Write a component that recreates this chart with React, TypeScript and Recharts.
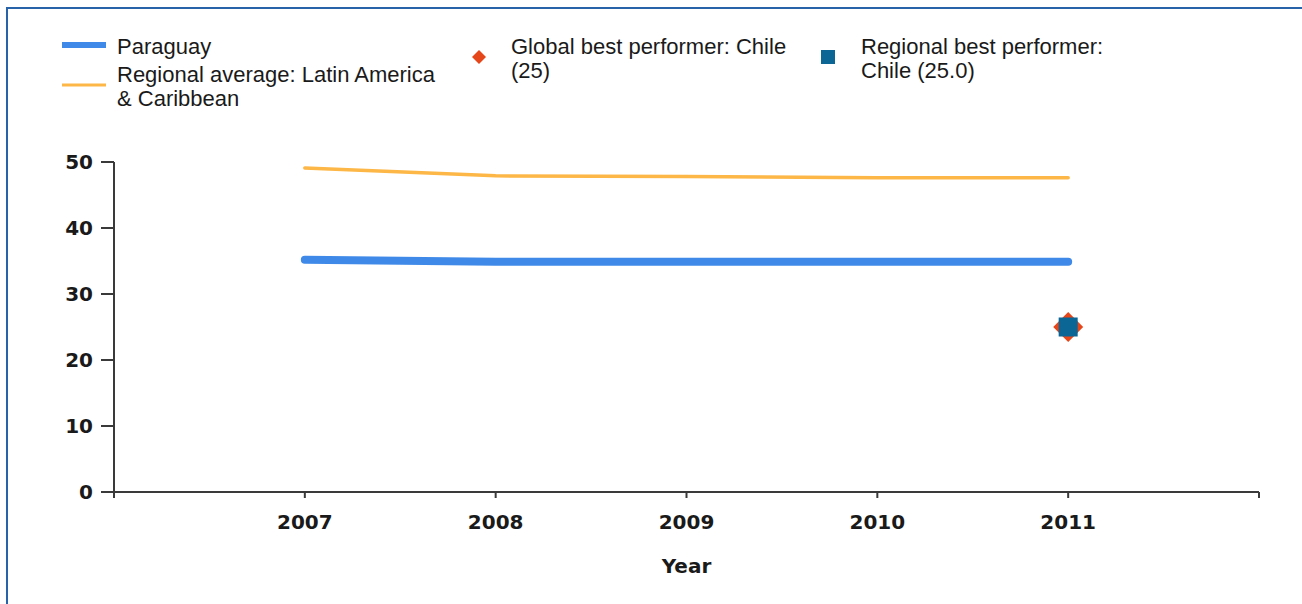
import React from "react";
import {
  ComposedChart,
  Line,
  Scatter,
  XAxis,
  YAxis,
  Label
} from "recharts";

const years = [2007, 2008, 2009, 2010, 2011];
const paraguay = [35.2, 34.9, 34.9, 34.9, 34.9];
const regionalAverage = [49.1, 47.9, 47.8, 47.6, 47.6];
const globalBestYears = [2011];
const globalBest = [25];
const regionalBestYears = [2011];
const regionalBest = [25.0];
const xTicks = [2006, 2007, 2008, 2009, 2010, 2011, 2012];
const yTicks = [0, 10, 20, 30, 40, 50];

const BLUE = "#3f8ae8";
const ORANGE = "#fdb747";
const RED = "#e5461a";
const TEAL = "#0b6595";
const AXIS = "#3a3a3a";
const TEXT = "#1a1a1a";

const rows = years.map((year, i) => ({
  year,
  paraguay: paraguay[i],
  regional: regionalAverage[i]
}));
const globalRows = globalBestYears.map((year, i) => ({ year, value: globalBest[i] }));
const regionalRows = regionalBestYears.map((year, i) => ({ year, value: regionalBest[i] }));

const tickFont = { fontFamily: "DejaVu Sans", fontWeight: 700, fontSize: 20, fill: TEXT };

function Diamond(props: any) {
  const { cx, cy } = props;
  const r = 15;
  return (
    <polygon
      points={`${cx},${cy - r} ${cx + r},${cy} ${cx},${cy + r} ${cx - r},${cy}`}
      fill={RED}
    />
  );
}

function Square(props: any) {
  const { cx, cy } = props;
  const s = 19;
  return <rect x={cx - s / 2} y={cy - s / 2} width={s} height={s} fill={TEAL} />;
}

const legendText: React.CSSProperties = {
  position: "absolute",
  fontFamily: "Liberation Sans, Arial, sans-serif",
  fontSize: 22,
  lineHeight: "24px",
  color: TEXT,
  whiteSpace: "nowrap"
};

function ChartLegend() {
  return (
    <>
      <svg style={{ position: "absolute", left: 0, top: 0 }} width={1302} height={120}>
        <line x1={62} x2={106} y1={45} y2={45} stroke={BLUE} strokeWidth={6} />
        <line x1={62} x2={106} y1={85} y2={85} stroke={ORANGE} strokeWidth={3} />
        <polygon points="479,50 486,57 479,64 472,57" fill={RED} />
        <rect x={821} y={50} width={14} height={14} fill={TEAL} />
      </svg>
      <div style={{ ...legendText, left: 117, top: 35 }}>Paraguay</div>
      <div style={{ ...legendText, left: 117, top: 63 }}>
        Regional average: Latin America
        <br />& Caribbean
      </div>
      <div style={{ ...legendText, left: 511, top: 35 }}>
        Global best performer: Chile
        <br />(25)
      </div>
      <div style={{ ...legendText, left: 861, top: 35 }}>
        Regional best performer:
        <br />Chile (25.0)
      </div>
    </>
  );
}

export default function App() {
  return (
    <div
      style={{
        position: "absolute",
        left: 0,
        top: 0,
        width: 1302,
        height: 604,
        background: "#fff",
        overflow: "hidden"
      }}
    >
      <div
        style={{
          position: "absolute",
          left: 6,
          top: 7,
          right: 0,
          bottom: 0,
          borderTop: "2px solid #2862a8",
          borderLeft: "2px solid #2862a8"
        }}
      />
      <ChartLegend />
      <div style={{ position: "absolute", left: 0, top: 0 }}>
        <ComposedChart
          width={1302}
          height={604}
          data={rows}
          margin={{ top: 162, right: 43, bottom: 0, left: 0 }}
        >
          <XAxis
            dataKey="year"
            type="number"
            domain={[2006, 2012]}
            ticks={xTicks}
            tickFormatter={(v: number) => (v === 2006 || v === 2012 ? "" : String(v))}
            height={112}
            tickSize={6}
            tickMargin={17}
            stroke={AXIS}
            strokeWidth={2}
            tick={tickFont}
            allowDataOverflow
          >
            <Label
              value="Year"
              position="insideBottom"
              offset={31}
              style={{ fontFamily: "DejaVu Sans", fontWeight: 700, fontSize: 20, fill: TEXT }}
            />
          </XAxis>
          <YAxis
            type="number"
            domain={[0, 50]}
            ticks={yTicks}
            width={114}
            tickSize={13}
            tickMargin={8}
            stroke={AXIS}
            strokeWidth={2}
            tick={tickFont}
            allowDataOverflow
          />
          <Line
            dataKey="regional"
            stroke={ORANGE}
            strokeWidth={3.5}
            dot={false}
            type="linear"
            isAnimationActive={false}
            strokeLinecap="round"
          />
          <Line
            dataKey="paraguay"
            stroke={BLUE}
            strokeWidth={8}
            dot={false}
            type="linear"
            isAnimationActive={false}
            strokeLinecap="round"
          />
          <Scatter
            data={globalRows}
            dataKey="value"
            shape={<Diamond />}
            isAnimationActive={false}
          />
          <Scatter
            data={regionalRows}
            dataKey="value"
            shape={<Square />}
            isAnimationActive={false}
          />
        </ComposedChart>
      </div>
    </div>
  );
}
